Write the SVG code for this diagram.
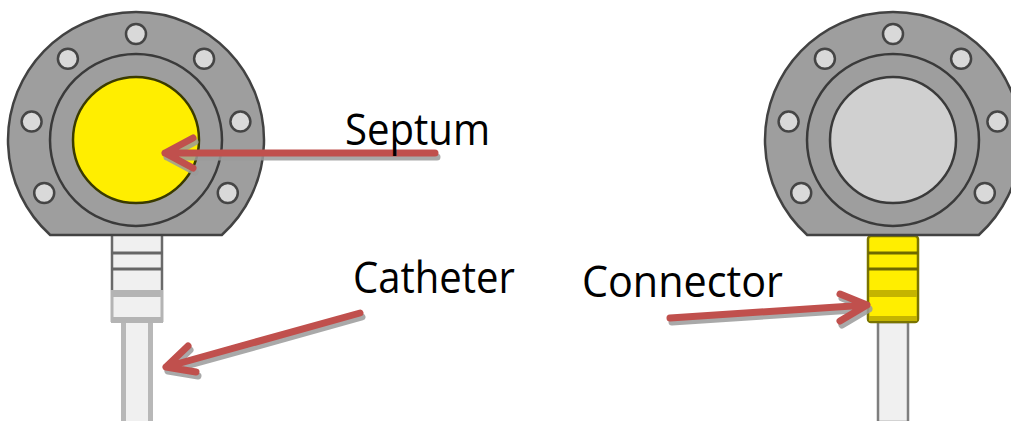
<svg xmlns="http://www.w3.org/2000/svg" width="1011" height="421" viewBox="0 0 1011 421">
  <defs>
    <style>
      .flange { fill: #9e9e9e; stroke: #424242; stroke-width: 2.5; }
      .ring { fill: none; stroke: #3a3a3a; stroke-width: 2.5; }
      .hole { fill: #d9d9d9; stroke: #454545; stroke-width: 2.5; }
      .label { font-family: "Open Sans", "Liberation Sans", sans-serif; font-size: 43px; fill: #000; }
      .arrow { fill: none; stroke: #c0504d; stroke-width: 7; stroke-linecap: round; stroke-linejoin: round; }
      .arrow-shadow { fill: none; stroke: #9a9a9a; stroke-width: 7; stroke-linecap: round; stroke-linejoin: round; opacity: 0.85; }
    </style>
    <!-- port body: flange with cut bottom, bolt holes, inner ring; centred at 0,0 -->
    <g id="flange-body">
      <path class="flange" d="M -85.8 95 A 128 128 0 1 1 85.8 95 Z"/>
      <circle class="ring" cx="0" cy="0" r="86"/>
      <circle class="hole" cx="0" cy="-106" r="10"/>
      <circle class="hole" cx="-68.1" cy="-81.2" r="10"/>
      <circle class="hole" cx="68.1" cy="-81.2" r="10"/>
      <circle class="hole" cx="-104.4" cy="-18.4" r="10"/>
      <circle class="hole" cx="104.4" cy="-18.4" r="10"/>
      <circle class="hole" cx="-91.8" cy="53" r="10"/>
      <circle class="hole" cx="91.8" cy="53" r="10"/>
    </g>
  </defs>

  <rect width="1011" height="421" fill="#ffffff"/>

  <!-- left port: yellow septum, plain connector and catheter -->
  <g id="port-left">
    <!-- catheter tube -->
    <rect x="121" y="322" width="32" height="100" fill="#f0f0f0"/>
    <line x1="123.5" y1="322" x2="123.5" y2="421" stroke="#b8b8b8" stroke-width="5"/>
    <line x1="150.5" y1="322" x2="150.5" y2="421" stroke="#b8b8b8" stroke-width="5"/>
    <!-- connector -->
    <rect x="111" y="236" width="52" height="87" rx="3" fill="#f0f0f0"/>
    <rect x="111" y="290" width="52" height="7" fill="#b4b4b4"/>
    <rect x="111" y="317" width="52" height="6" fill="#b4b4b4"/>
    <line x1="112" y1="236" x2="112" y2="290" stroke="#6a6a6a" stroke-width="2.5"/>
    <line x1="162" y1="236" x2="162" y2="290" stroke="#6a6a6a" stroke-width="2.5"/>
    <line x1="112" y1="290" x2="112" y2="322" stroke="#b4b4b4" stroke-width="3"/>
    <line x1="162" y1="290" x2="162" y2="322" stroke="#b4b4b4" stroke-width="3"/>
    <line x1="111" y1="253" x2="163" y2="253" stroke="#666666" stroke-width="3"/>
    <line x1="111" y1="269" x2="163" y2="269" stroke="#666666" stroke-width="3"/>
    <use href="#flange-body" transform="translate(136 140)"/>
    <circle cx="136" cy="140" r="63" fill="#ffee00" stroke="#3a3a00" stroke-width="2.5"/>
  </g>

  <!-- right port: grey septum, yellow connector -->
  <g id="port-right">
    <rect x="878" y="322" width="30" height="100" fill="#f0f0f0" stroke="#7e7e7e" stroke-width="2.5"/>
    <rect x="868" y="236" width="50" height="86" rx="3" fill="#ffee00" stroke="#7a7400" stroke-width="2.5"/>
    <rect x="869" y="290" width="48" height="7" fill="#c4b400"/>
    <rect x="869" y="316" width="48" height="5" fill="#c4b400"/>
    <line x1="868" y1="253" x2="918" y2="253" stroke="#6e6800" stroke-width="3"/>
    <line x1="868" y1="269" x2="918" y2="269" stroke="#6e6800" stroke-width="3"/>
    <use href="#flange-body" transform="translate(893 140)"/>
    <circle cx="893" cy="140" r="63" fill="#d0d0d0" stroke="#3a3a3a" stroke-width="2.5"/>
  </g>

  <!-- callout arrows -->
  <g id="connectors">
    <g transform="translate(2 4)">
      <path class="arrow-shadow" d="M435 153 L165 153 M193 138 L165 153 L193 168"/>
      <path class="arrow-shadow" d="M360 313 L166 367 M188 346 L166 367 L196 372"/>
      <path class="arrow-shadow" d="M670 318 L867 305 M840 294 L867 305 L840 321"/>
    </g>
    <path class="arrow" d="M435 153 L165 153 M193 138 L165 153 L193 168"/>
    <path class="arrow" d="M360 313 L166 367 M188 346 L166 367 L196 372"/>
    <path class="arrow" d="M670 318 L867 305 M840 294 L867 305 L840 321"/>
  </g>

  <g id="label-septum">
    <text class="label" x="345" y="145" textLength="145" lengthAdjust="spacingAndGlyphs">Septum</text>
  </g>
  <g id="label-catheter">
    <text class="label" x="353" y="293" textLength="162" lengthAdjust="spacingAndGlyphs">Catheter</text>
  </g>
  <g id="label-connector">
    <text class="label" x="582" y="297" textLength="201" lengthAdjust="spacingAndGlyphs">Connector</text>
  </g>
</svg>
